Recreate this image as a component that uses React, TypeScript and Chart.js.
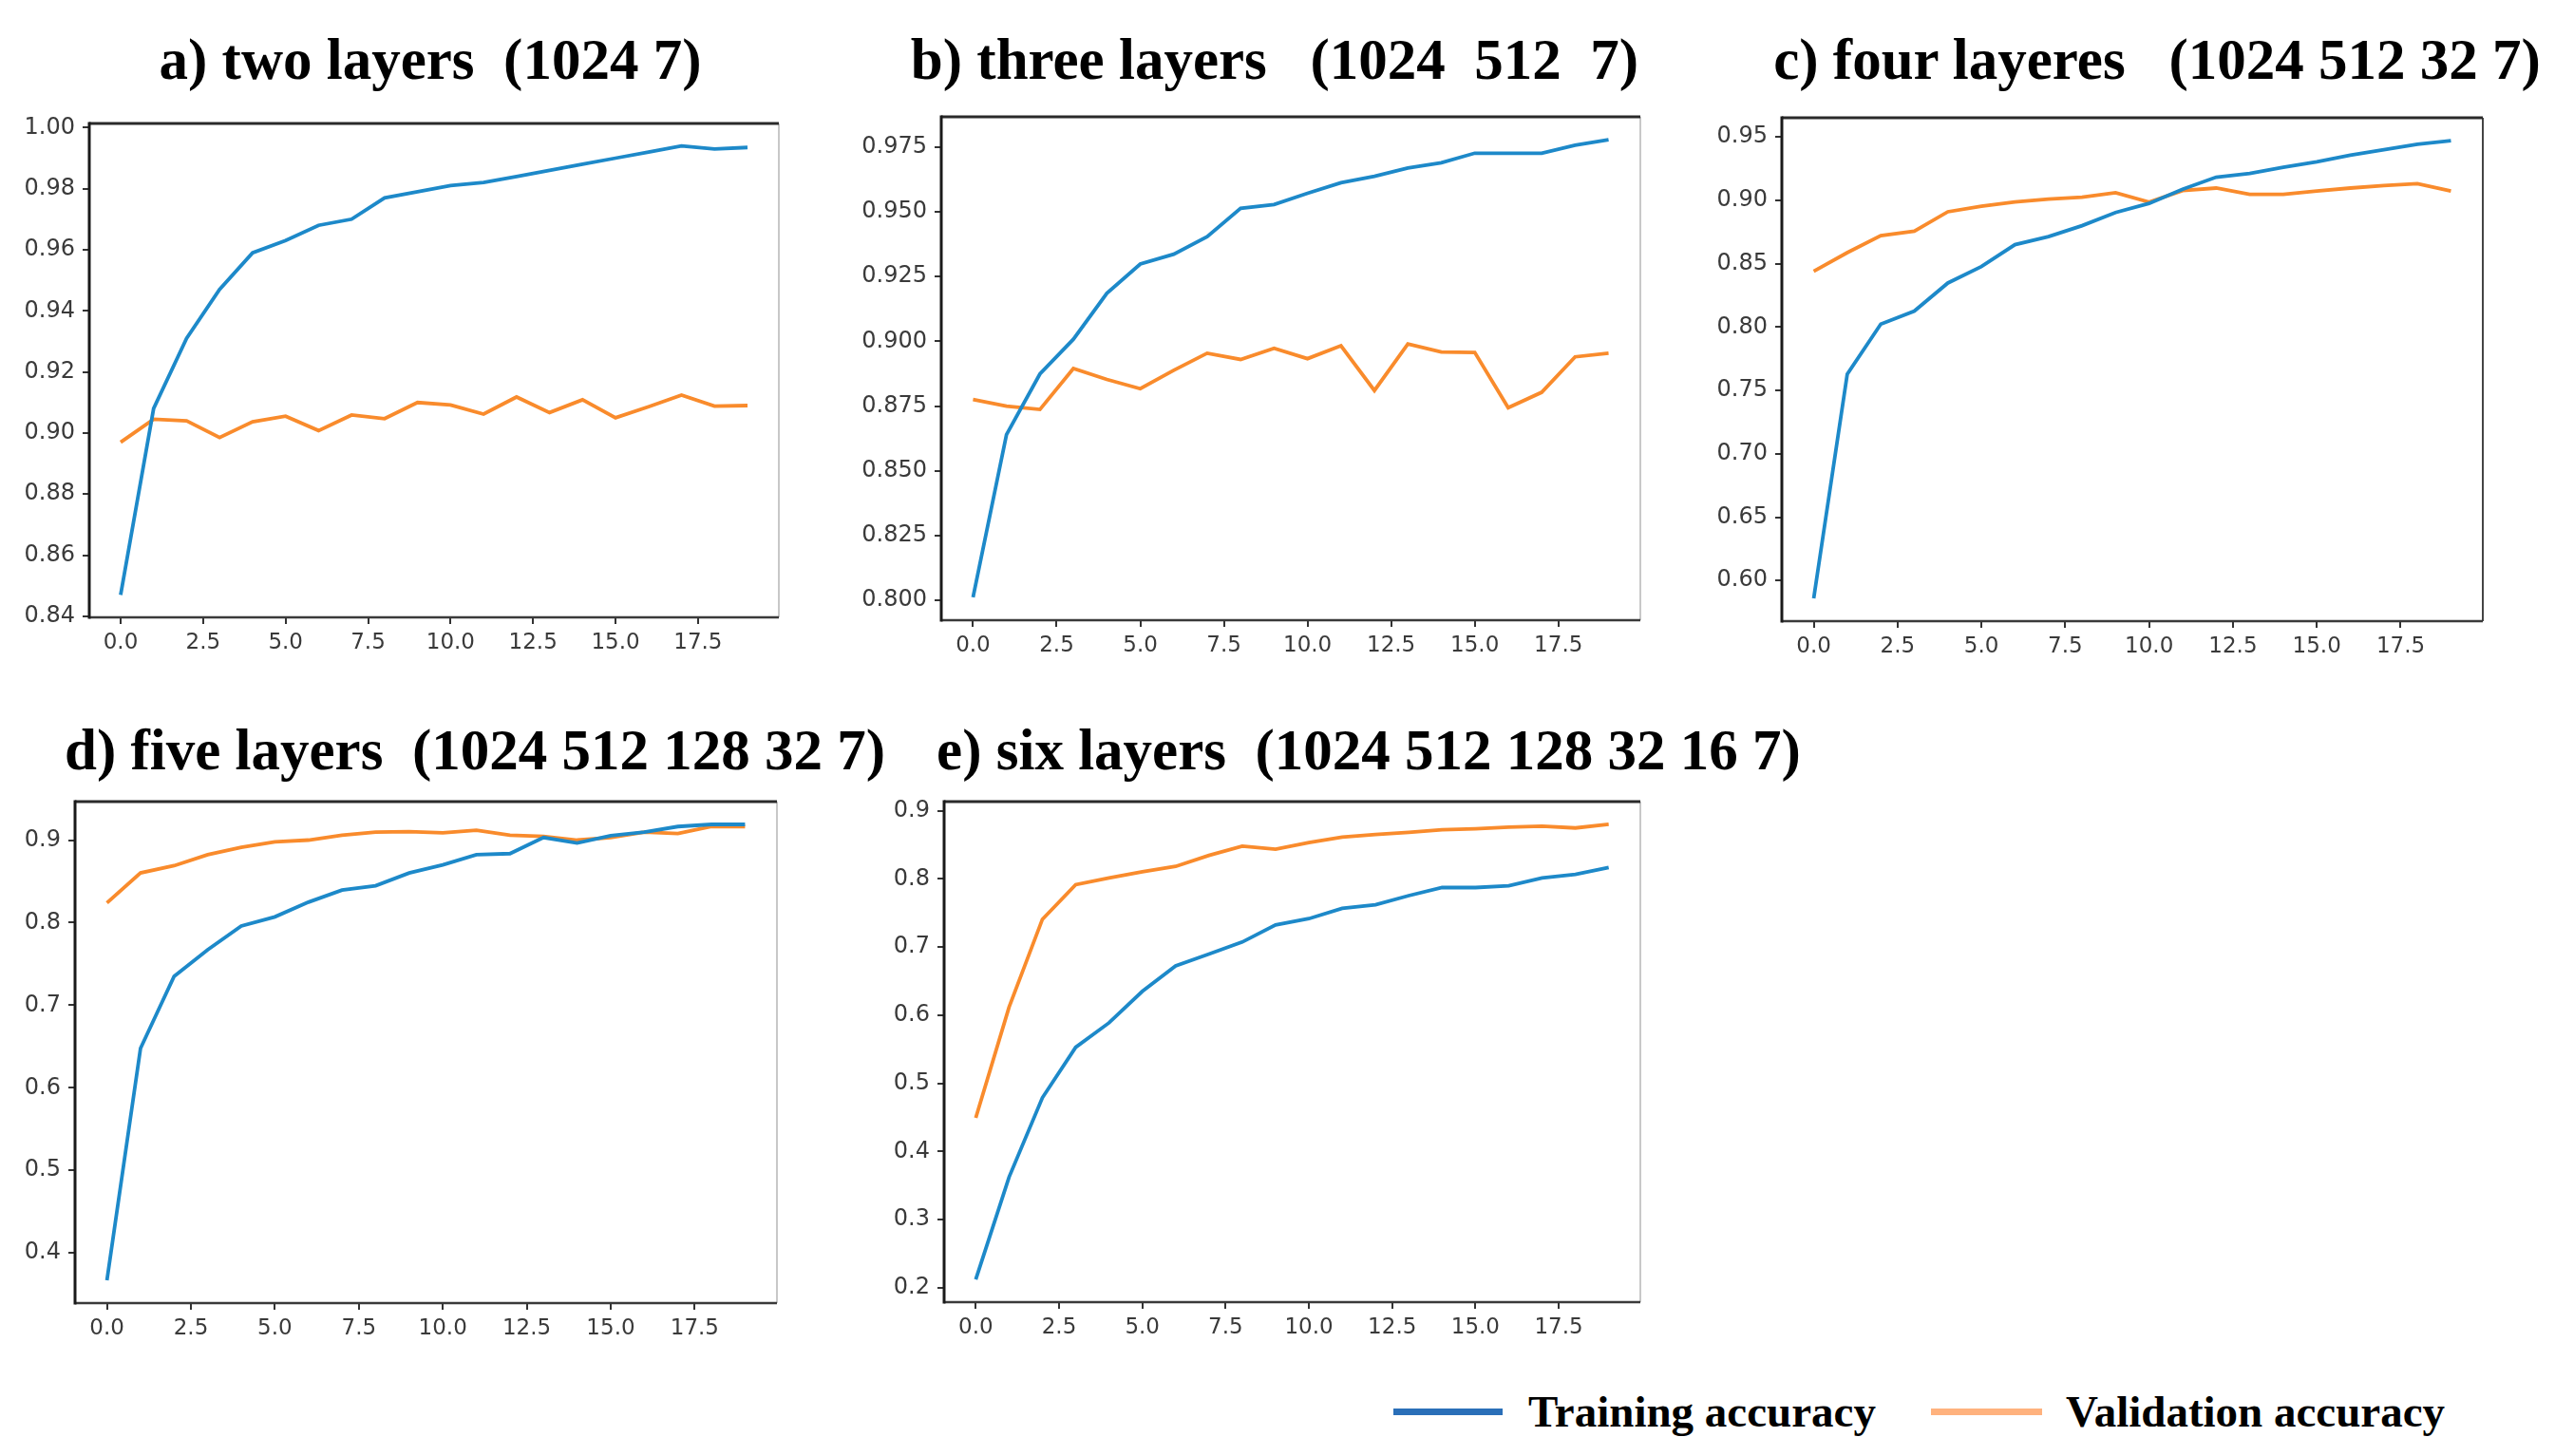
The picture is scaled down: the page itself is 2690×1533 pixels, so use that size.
import React, { useEffect, useRef } from 'react';
import { Chart, registerables } from 'chart.js';
Chart.register(...registerables);

// ---------------- data ----------------
const epochs = [0, 1, 2, 3, 4, 5, 6, 7, 8, 9, 10, 11, 12, 13, 14, 15, 16, 17, 18, 19];
const xTickLabels = ['0.0', '2.5', '5.0', '7.5', '10.0', '12.5', '15.0', '17.5'];

const trainA = [0.847, 0.908, 0.931, 0.947, 0.959, 0.963, 0.968, 0.970, 0.977, 0.979, 0.981, 0.982, 0.984, 0.986, 0.988, 0.990, 0.992, 0.994, 0.993, 0.9935];
const valA = [0.897, 0.9045, 0.904, 0.8985, 0.9037, 0.9055, 0.9008, 0.9059, 0.9047, 0.910, 0.9092, 0.9062, 0.9118, 0.9067, 0.9109, 0.905, 0.9086, 0.9124, 0.9088, 0.909];
const yTickLabelsA = ['0.84', '0.86', '0.88', '0.90', '0.92', '0.94', '0.96', '0.98', '1.00'];

const trainB = [0.8012, 0.864, 0.8874, 0.9008, 0.9185, 0.9298, 0.9336, 0.9404, 0.9513, 0.9528, 0.9571, 0.9612, 0.9637, 0.9669, 0.9689, 0.9726, 0.9726, 0.9726, 0.9757, 0.9778];
const valB = [0.8775, 0.875, 0.8737, 0.8895, 0.8853, 0.8817, 0.8888, 0.8954, 0.893, 0.8973, 0.8933, 0.8983, 0.881, 0.899, 0.8959, 0.8957, 0.8744, 0.8803, 0.894, 0.8954];
const yTickLabelsB = ['0.800', '0.825', '0.850', '0.875', '0.900', '0.925', '0.950', '0.975'];

const trainC = [0.586, 0.7628, 0.8023, 0.8126, 0.8348, 0.8478, 0.865, 0.8714, 0.880, 0.8904, 0.8976, 0.9088, 0.9183, 0.9212, 0.9261, 0.9304, 0.9356, 0.9399, 0.9442, 0.9471];
const valC = [0.844, 0.8587, 0.8722, 0.8757, 0.891, 0.8953, 0.8987, 0.901, 0.9025, 0.906, 0.8986, 0.9077, 0.9097, 0.9048, 0.9048, 0.9074, 0.9097, 0.9117, 0.9131, 0.9074];
const yTickLabelsC = ['0.60', '0.65', '0.70', '0.75', '0.80', '0.85', '0.90', '0.95'];

const trainD = [0.3668, 0.6478, 0.735, 0.7672, 0.796, 0.807, 0.8248, 0.8394, 0.8447, 0.8602, 0.870, 0.8823, 0.8836, 0.9031, 0.8965, 0.9053, 0.9097, 0.9164, 0.919, 0.919];
const valD = [0.8239, 0.8602, 0.869, 0.8823, 0.8912, 0.8978, 0.900, 0.9058, 0.9097, 0.9102, 0.9089, 0.912, 0.9058, 0.9044, 0.900, 0.9031, 0.9097, 0.908, 0.9164, 0.9164];
const yTickLabelsD = ['0.4', '0.5', '0.6', '0.7', '0.8', '0.9'];

const trainE = [0.2122, 0.3624, 0.4788, 0.5529, 0.5888, 0.635, 0.6725, 0.6897, 0.7074, 0.7326, 0.7417, 0.7568, 0.7621, 0.7755, 0.7873, 0.7873, 0.79, 0.8013, 0.8066, 0.8168];
const valE = [0.4493, 0.6119, 0.7407, 0.7916, 0.8013, 0.8104, 0.8184, 0.8345, 0.848, 0.8437, 0.8533, 0.8614, 0.8651, 0.8683, 0.8721, 0.8737, 0.8759, 0.8775, 0.8748, 0.8801];
const yTickLabelsE = ['0.2', '0.3', '0.4', '0.5', '0.6', '0.7', '0.8', '0.9'];

const titles = [
  'a) two layers  (1024 7)',
  'b) three layers   (1024  512  7)',
  'c) four layeres   (1024 512 32 7)',
  'd) five layers  (1024 512 128 32 7)',
  'e) six layers  (1024 512 128 32 16 7)',
];
const legendLabels = ['Training accuracy', 'Validation accuracy'];

// ---------------- styles ----------------
const BLUE = '#1d89c9';
const ORANGE = '#f98b2c';
const LEG_BLUE = '#2a6fb8';
const LEG_ORANGE = '#ffb27e';

type Box = { l: number; t: number; r: number; b: number };

const YW = 110;
const XH = 70;
const PT = 14;
const PR = 14;

const spinePlugin = (rightColor: string) => ({
  id: 'spines',
  afterDatasetsDraw(chart: any) {
    const { ctx, chartArea: a } = chart;
    ctx.save();
    ctx.lineCap = 'butt';
    ctx.strokeStyle = rightColor;
    ctx.lineWidth = 2;
    ctx.beginPath();
    ctx.moveTo(a.right, a.top);
    ctx.lineTo(a.right, a.bottom);
    ctx.stroke();
    ctx.strokeStyle = '#3a3a3a';
    ctx.lineWidth = 2.5;
    ctx.beginPath();
    ctx.moveTo(a.left, a.bottom);
    ctx.lineTo(a.right, a.bottom);
    ctx.stroke();
    ctx.strokeStyle = '#2a2a2a';
    ctx.lineWidth = 3;
    ctx.beginPath();
    ctx.moveTo(a.left, a.top);
    ctx.lineTo(a.right, a.top);
    ctx.stroke();
    ctx.strokeStyle = '#1a1a1a';
    ctx.lineWidth = 3;
    ctx.beginPath();
    ctx.moveTo(a.left, a.top - 1.5);
    ctx.lineTo(a.left, a.bottom + 1.5);
    ctx.stroke();
    ctx.restore();
  },
});

function Panel(props: { box: Box; train: number[]; val: number[]; yLabels: string[]; rightColor: string }) {
  const { box, train, val, yLabels, rightColor } = props;
  const ref = useRef<HTMLCanvasElement | null>(null);
  const w = box.r - box.l + YW + PR;
  const h = box.b - box.t + PT + XH;

  useEffect(() => {
    if (!ref.current) return;
    const all = train.concat(val);
    const mn = Math.min(...all);
    const mx = Math.max(...all);
    const rng = mx - mn;
    const yTickValues = yLabels.map((s) => parseFloat(s));
    const xTickValues = xTickLabels.map((s) => parseFloat(s));
    const span = epochs[epochs.length - 1] - epochs[0];
    const xMin = epochs[0] - 0.05 * span;
    const xMax = epochs[epochs.length - 1] + 0.05 * span;

    const chart = new Chart(ref.current, {
      type: 'line',
      data: {
        datasets: [
          {
            label: legendLabels[0],
            data: epochs.map((e, i) => ({ x: e, y: train[i] })),
            borderColor: BLUE,
            borderWidth: 3.8,
            pointRadius: 0,
            tension: 0,
            fill: false,
          },
          {
            label: legendLabels[1],
            data: epochs.map((e, i) => ({ x: e, y: val[i] })),
            borderColor: ORANGE,
            borderWidth: 3.8,
            pointRadius: 0,
            tension: 0,
            fill: false,
          },
        ],
      },
      options: {
        animation: false,
        responsive: false,
        devicePixelRatio: 1,
        layout: { padding: { left: 0, top: PT, right: PR, bottom: 0 } },
        plugins: { legend: { display: false }, title: { display: false }, tooltip: { enabled: false } },
        scales: {
          x: {
            type: 'linear',
            min: xMin,
            max: xMax,
            afterBuildTicks: (axis: any) => {
              axis.ticks = xTickValues.map((v) => ({ value: v }));
            },
            afterFit: (scale: any) => {
              scale.height = XH;
              scale.paddingLeft = 0;
              scale.paddingRight = 0;
            },
            grid: { drawOnChartArea: false, drawTicks: true, tickLength: 7, tickWidth: 2, color: '#333', lineWidth: 2 },
            border: { display: false },
            ticks: {
              autoSkip: false,
              maxRotation: 0,
              padding: 6,
              color: '#3a3a3a',
              font: { family: 'DejaVu Sans', size: 23 },
              callback: (_v: any, i: number) => xTickLabels[i],
            },
          },
          y: {
            type: 'linear',
            min: mn - 0.05 * rng,
            max: mx + 0.05 * rng,
            afterBuildTicks: (axis: any) => {
              axis.ticks = yTickValues.map((v) => ({ value: v }));
            },
            afterFit: (scale: any) => {
              scale.width = YW;
              scale.paddingTop = 0;
              scale.paddingBottom = 0;
            },
            grid: { drawOnChartArea: false, drawTicks: true, tickLength: 7, tickWidth: 2, color: '#333', lineWidth: 2 },
            border: { display: false },
            ticks: {
              autoSkip: false,
              padding: 8,
              color: '#3a3a3a',
              font: { family: 'DejaVu Sans', size: 24 },
              callback: (_v: any, i: number) => yLabels[i],
            },
          },
        },
      },
      plugins: [spinePlugin(rightColor)],
    } as any);
    return () => chart.destroy();
  }, []);

  return (
    <canvas
      ref={ref}
      width={w}
      height={h}
      style={{ position: 'absolute', left: box.l - YW, top: box.t - PT, width: w, height: h }}
    />
  );
}

function Title(props: { text: string; cx: number; cy: number }) {
  return (
    <div
      style={{
        position: 'absolute',
        left: props.cx - 700,
        width: 1400,
        top: props.cy - 40,
        height: 80,
        lineHeight: '80px',
        textAlign: 'center',
        whiteSpace: 'pre',
        fontFamily: '"Liberation Serif", "Times New Roman", serif',
        fontWeight: 'bold',
        fontSize: 61,
        color: '#000',
      }}
    >
      {props.text}
    </div>
  );
}

export default function App() {
  useEffect(() => {
    document.body.style.margin = '0';
  }, []);
  const legendText = {
    position: 'absolute' as const,
    top: 1486 - 35,
    height: 70,
    lineHeight: '70px',
    whiteSpace: 'pre' as const,
    fontFamily: '"Liberation Serif", "Times New Roman", serif',
    fontWeight: 'bold' as const,
    fontSize: 47,
    color: '#000',
  };
  return (
    <div style={{ position: 'absolute', left: 0, top: 0, width: 2690, height: 1533, background: '#fff', overflow: 'hidden' }}>
      <Title text={titles[0]} cx={453} cy={63} />
      <Title text={titles[1]} cx={1342} cy={63} />
      <Title text={titles[2]} cx={2271} cy={63} />
      <Title text={titles[3]} cx={500} cy={790} />
      <Title text={titles[4]} cx={1441} cy={790} />
      <Panel box={{ l: 94, t: 130, r: 820, b: 650 }} train={trainA} val={valA} yLabels={yTickLabelsA} rightColor="#c8c8c8" />
      <Panel box={{ l: 991, t: 123, r: 1727, b: 653 }} train={trainB} val={valB} yLabels={yTickLabelsB} rightColor="#c8c8c8" />
      <Panel box={{ l: 1876, t: 124, r: 2614, b: 654 }} train={trainC} val={valC} yLabels={yTickLabelsC} rightColor="#444" />
      <Panel box={{ l: 79, t: 844, r: 818, b: 1372 }} train={trainD} val={valD} yLabels={yTickLabelsD} rightColor="#c8c8c8" />
      <Panel box={{ l: 994, t: 844, r: 1727, b: 1371 }} train={trainE} val={valE} yLabels={yTickLabelsE} rightColor="#c8c8c8" />
      <div style={{ position: 'absolute', left: 1467, top: 1483, width: 115, height: 7, background: LEG_BLUE }} />
      <div style={{ ...legendText, left: 1609 }}>{legendLabels[0]}</div>
      <div style={{ position: 'absolute', left: 2033, top: 1483, width: 117, height: 7, background: LEG_ORANGE }} />
      <div style={{ ...legendText, left: 2175 }}>{legendLabels[1]}</div>
    </div>
  );
}
